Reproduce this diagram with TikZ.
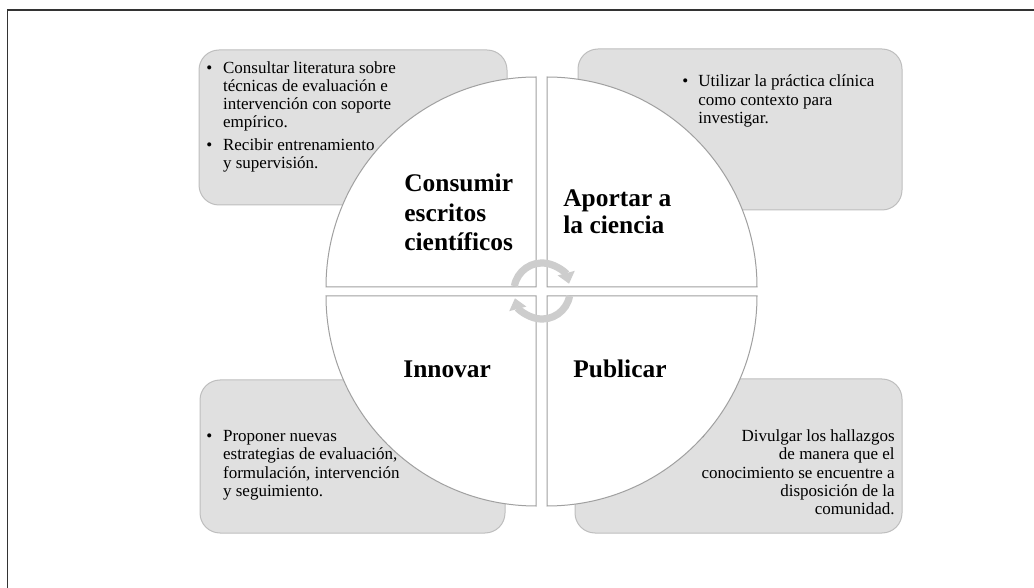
\documentclass[tikz,border=0pt]{standalone}
\usepackage{fontspec}
\setmainfont{Liberation Serif}
\usepackage{xcolor}
\usetikzlibrary{arrows.meta}

\definecolor{boxfill}{RGB}{224,224,224}
\definecolor{boxline}{RGB}{190,190,190}
\definecolor{rimline}{RGB}{160,160,160}
\definecolor{cyclegray}{RGB}{205,205,205}

\begin{document}
\begin{tikzpicture}[x=0.5pt, y=-0.5pt,
    infobox/.style={draw=boxline, fill=boxfill, line width=0.5pt, rounded corners=10pt},
    quarter/.style={draw=rimline, fill=white, line width=0.5pt},
    bodytext/.style={anchor=base west, inner sep=0pt, align=left, font=\fontsize{8.5}{9.1}\selectfont},
    phase/.style={anchor=base west, inner sep=0pt, align=left, font=\bfseries\fontsize{12.7}{14.7}\selectfont},
    cyclearrow/.style={draw=cyclegray, line width=3.6pt, -{Triangle[width=8.5pt, length=5.5pt]}}
  ]
  \useasboundingbox (0, 0) rectangle (1034, 588);

  % Frame
  \draw[black!80, line width=0.9pt] (7.5, 588) -- (7.5, 10) -- (1034, 10);

  % Grey boxes
  \draw[infobox] (199, 50) rectangle (507, 205);
  \draw[infobox] (578, 49) rectangle (902, 210);
  \draw[infobox] (200, 380) rectangle (505, 533);
  \draw[infobox] (575, 379) rectangle (902, 533);

  % Box texts (base = last line)
  \node[bodytext] (dot1) at (206, 73.3) {•};
  \node[bodytext] (read1) at (222.7, 127.9)
    {Consultar literatura sobre\\técnicas de evaluación e\\intervención con soporte\\empírico.};
  \node[bodytext] (dot2) at (206, 150.7) {•};
  \node[bodytext] (read2) at (222.7, 168.9) {Recibir entrenamiento\\y supervisión.};
  \node[bodytext] (dot3) at (682, 87) {•};
  \node[bodytext] (share) at (698, 123.4)
    {Utilizar la práctica clínica\\como contexto para\\investigar.};
  \node[bodytext] (dot4) at (206, 441.7) {•};
  \node[bodytext] (propose) at (222.7, 496.3)
    {Proponer nuevas\\estrategias de evaluación,\\formulación, intervención\\y seguimiento.};
  \node[bodytext] (dot5) at (699, 441.7) {•};
  \node[bodytext, anchor=base east, align=right] (spread) at (895, 514.5)
    {Divulgar los hallazgos\\de manera que el\\conocimiento se encuentre a\\disposición de la\\comunidad.};

  % Quarter circles
  \draw[quarter] (536, 287) -- (326, 287) arc[start angle=180, end angle=270, radius=210] -- cycle;
  \draw[quarter] (547, 287) -- (547, 77) arc[start angle=270, end angle=360, radius=210] -- cycle;
  \draw[quarter] (536, 296) -- (536, 506) arc[start angle=90, end angle=180, radius=210] -- cycle;
  \draw[quarter] (547, 296) -- (757, 296) arc[start angle=0, end angle=90, radius=210] -- cycle;

  % Phase labels
  \node[phase] (consume) at (404, 250.8) {Consumir\\escritos\\científicos};
  \node[phase, font=\bfseries\fontsize{12.7}{13.3}\selectfont] (contribute) at (563, 233.3) {Aportar a\\la ciencia};
  \node[phase] (innovate) at (403, 378) {Innovar};
  \node[phase] (publish) at (573, 378) {Publicar};

  % Cycle arrows
  \coordinate (hub) at (542, 291);
  \draw[cyclearrow] (hub) ++(190:28) arc[start angle=190, end angle=345, radius=28];
  \draw[cyclearrow] (hub) ++(10:28) arc[start angle=10, end angle=165, radius=28];
\end{tikzpicture}
\end{document}
